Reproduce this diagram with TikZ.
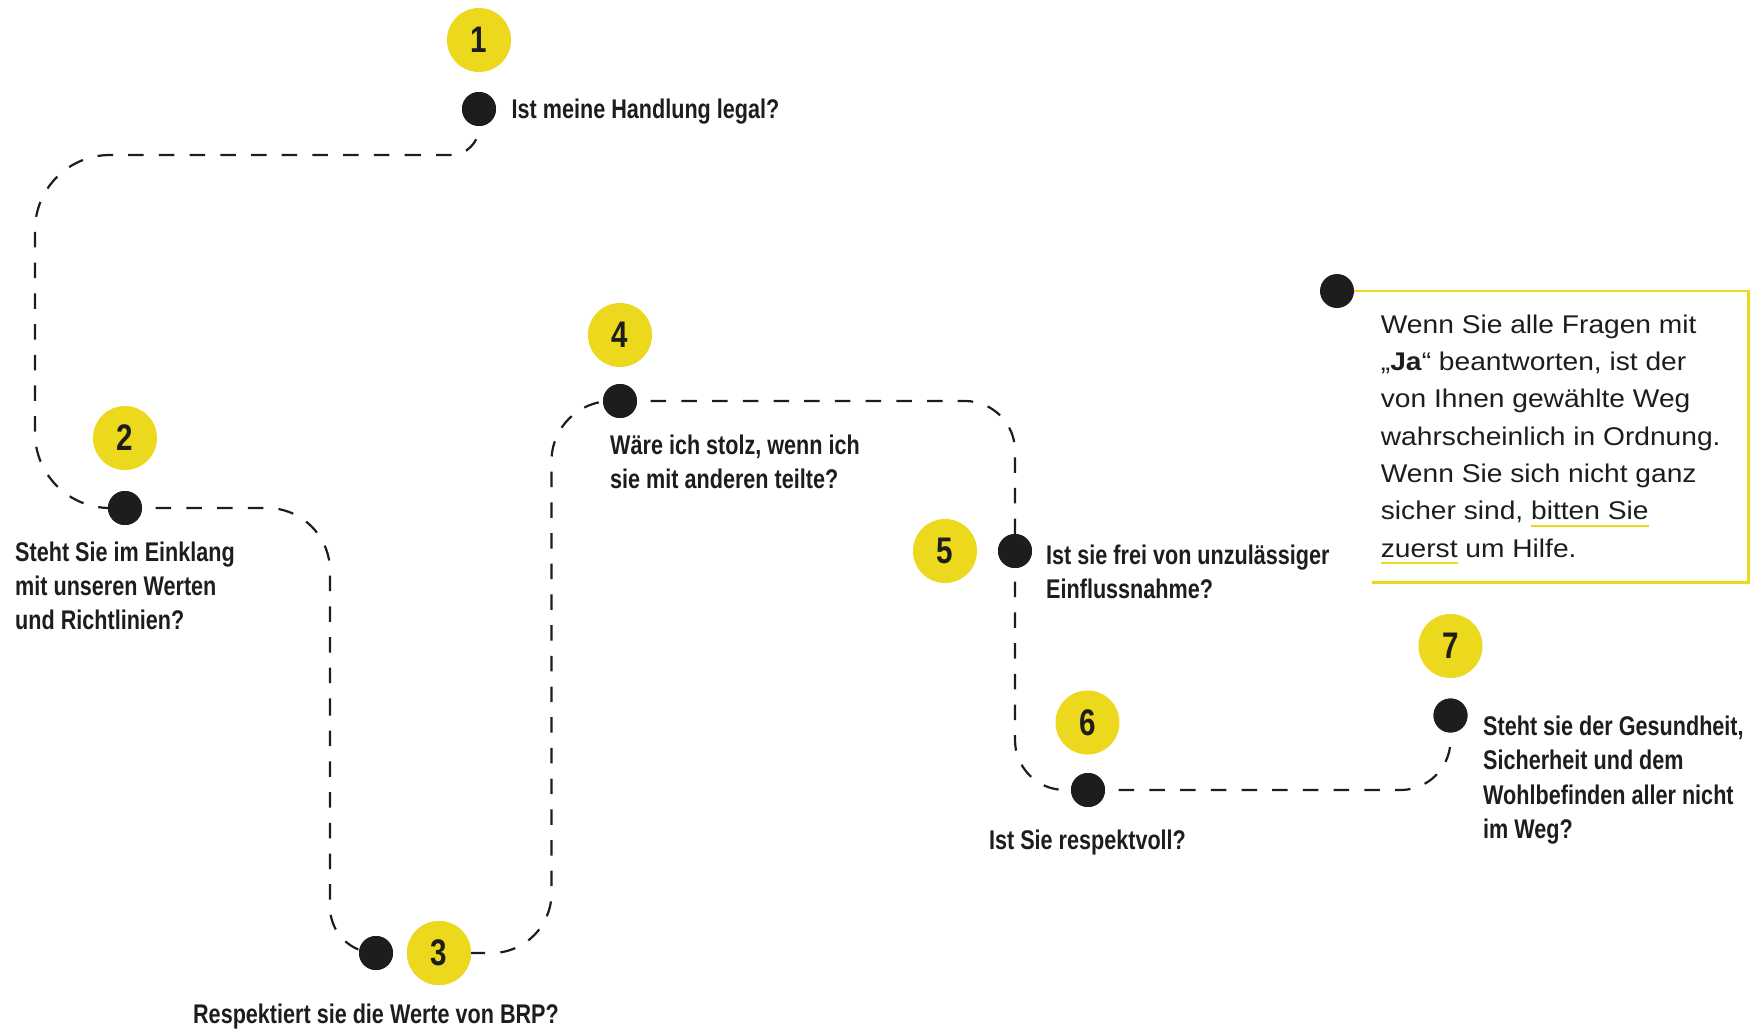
\documentclass[tikz,border=0pt]{standalone}
\usepackage{fontspec}
\setmainfont{Liberation Sans}
\newfontfamily\qfont{Liberation Sans}[FakeStretch=0.8]
\newfontfamily\bfont{Liberation Sans}[FakeStretch=1.1]
\definecolor{ylw}{HTML}{ECD81D}
\definecolor{ink}{HTML}{1D1D1B}
\newcommand\yul[1]{\setbox0\hbox{#1}\rlap{\color{ylw}\rule[-7.2pt]{\wd0}{2.4pt}}\box0\relax}
\begin{document}
\begin{tikzpicture}[x=1pt,y=-1pt,
  ycirc/.style={circle,fill=ylw,minimum size=64pt,inner sep=0pt,text=ink,
    font=\qfont\bfseries\fontsize{37pt}{37pt}\selectfont},
  dotn/.style={circle,fill=ink,minimum size=34pt,inner sep=0pt},
  route/.style={draw=ink,line width=2.2pt,dash pattern=on 15.5pt off 15.2pt},
  boxline/.style={draw=ylw,line width=2.2pt},
  qtext/.style={text=ink,inner sep=0pt,align=left,
    font=\qfont\bfseries\fontsize{27pt}{34.3pt}\selectfont},
  btext/.style={text=ink,inner sep=0pt,align=left,
    font=\bfont\fontsize{25.6pt}{37.3pt}\selectfont}]
\fill[white] (0,0) rectangle (1762,1029);
\useasboundingbox (0,0) rectangle (1762,1029);

% anchor coordinates of the route
\coordinate (d1p) at (479,109);
\coordinate (d2p) at (125,508);
\coordinate (d3p) at (376,953);
\coordinate (d4p) at (620,401);
\coordinate (d5p) at (1015,551);
\coordinate (d6p) at (1088,790);
\coordinate (d7p) at (1450.5,715.5);
\coordinate (dbp) at (1337,291);
\coordinate (k1) at (420,155);
\coordinate (k2) at (330,700);
\coordinate (bxe) at (1372,582.5);

% dots (named here, filled again on top later)
\path (d1p) node[dotn] (d1) {};
\path (d2p) node[dotn] (d2) {};
\path (d3p) node[dotn] (d3) {};
\path (d4p) node[dotn] (d4) {};
\path (d5p) node[dotn] (d5) {};
\path (d6p) node[dotn] (d6) {};
\path (d7p) node[dotn] (d7) {};
\node[ycirc] (y3) at (439,953) {3};

% dashed route
\draw[route,rounded corners=28pt] (d1.center) -- (479,155) -- (k1);
\draw[route,rounded corners=75pt] (k1) -- (35,155) -- (35,508) -- (d2.center);
\draw[route,rounded corners=63pt] (d2.center) -- (330,508) -- (k2);
\draw[route,rounded corners=46pt] (k2) -- (330,953) -- (d3.center);
\draw[route,rounded corners=60pt] (y3.center) -- (551.5,953) -- (551.5,401) -- (d4.center);
\draw[route,rounded corners=50pt] (d4.center) -- (1015,401) -- (d5.center);
\draw[route,rounded corners=50pt] (d5.center) -- (1015,790) -- (d6.center);
\draw[route,rounded corners=50pt] (d6.center) -- (1450.5,790) -- (d7.center);

% yellow box
\draw[boxline] (dbp) -- (1748.5,291) -- (1748.5,582.5) -- (bxe);

% dots on top
\foreach \n in {d1,d2,d3,d4,d5,d6,d7}{\fill[ink] (\n) circle[radius=17pt];}
\node[dotn] (db) at (dbp) {};

% numbered yellow circles
\node[ycirc] (y1) at (479,40) {1};
\node[ycirc] (y2) at (125,438) {2};
\node[ycirc] at (y3) {3};
\node[ycirc] (y4) at (620,335) {4};
\node[ycirc] (y5) at (945,551) {5};
\node[ycirc] (y6) at (1087.5,722.5) {6};
\node[ycirc] (y7) at (1450.5,646) {7};

% questions (base anchor = baseline of the last line)
\node[qtext,anchor=base west] (q1) at (511.5,118) {Ist meine Handlung legal?};
\node[qtext,anchor=base west] (q2) at (15,629.8) {Steht Sie im Einklang\\mit unseren Werten\\und Richtlinien?};
\node[qtext,anchor=base] (q3) at (376,1023) {Respektiert sie die Werte von BRP?};
\node[qtext,anchor=base west] (q4) at (610,488.7) {Wäre ich stolz, wenn ich\\sie mit anderen teilte?};
\node[qtext,anchor=base west] (q5) at (1046,598.3) {Ist sie frei von unzulässiger\\Einflussnahme?};
\node[qtext,anchor=base] (q6) at (1087.5,849.4) {Ist Sie respektvoll?};
\node[qtext,anchor=base west] (q7) at (1483,838.5) {Steht sie der Gesundheit,\\Sicherheit und dem\\Wohlbefinden aller nicht\\im Weg?};

% box text
\node[btext,anchor=base west] (bt) at (1380.7,557.1) {Wenn Sie alle Fragen mit\\„\textbf{Ja}“ beantworten, ist der\\von Ihnen gewählte Weg\\wahrscheinlich in Ordnung.\\Wenn Sie sich nicht ganz\\sicher sind, \yul{bitten Sie}\\\yul{zuerst} um Hilfe.};
\end{tikzpicture}
\end{document}
